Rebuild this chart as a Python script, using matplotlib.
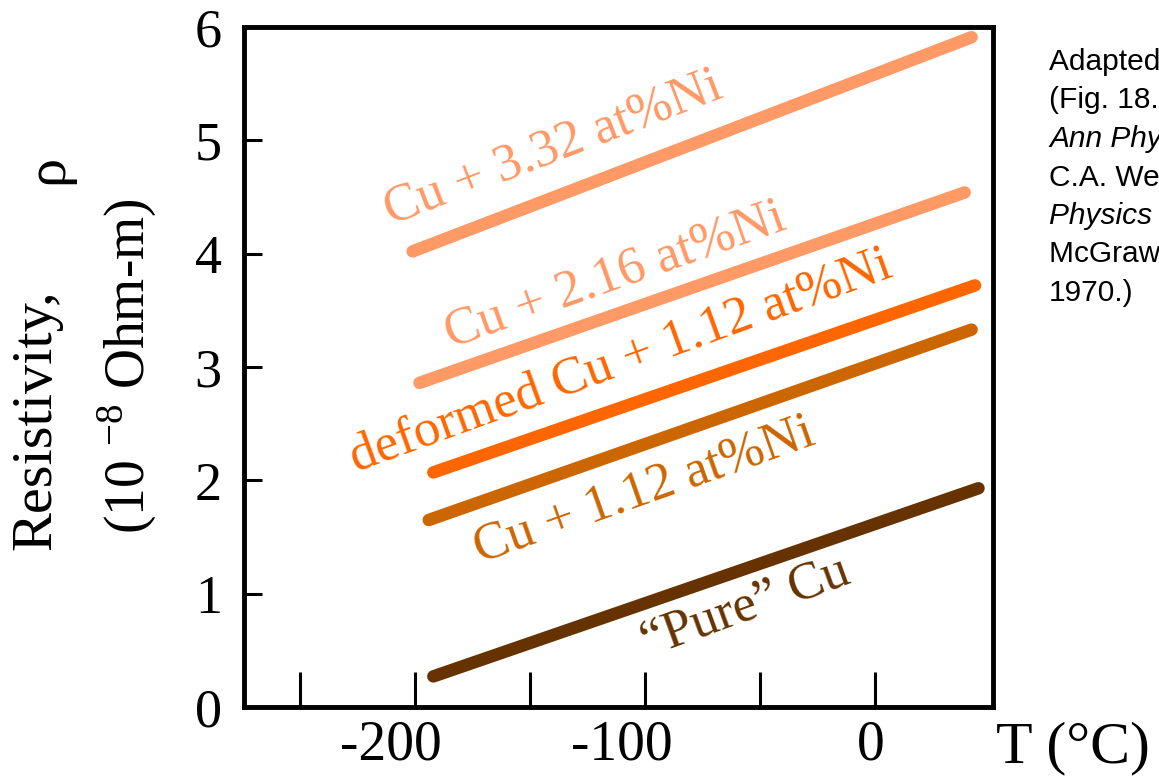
import matplotlib
matplotlib.use("Agg")
import matplotlib.pyplot as plt
from matplotlib import transforms

plt.rcParams["font.family"] = ["Liberation Serif", "DejaVu Serif"]
plt.rcParams["mathtext.fontset"] = "custom"
plt.rcParams["mathtext.rm"] = "Liberation Serif"

# resistivity lines: (T start, T end) in degC, (rho start, rho end) in 1e-8 Ohm-m
labels = ["\u201cPure\u201d Cu", "Cu + 1.12 at%Ni", "deformed Cu + 1.12 at%Ni",
          "Cu + 2.16 at%Ni", "Cu + 3.32 at%Ni"]
t_start = [-192, -194, -192, -198, -201]
t_end = [45, 42, 43.5, 39, 42]
rho_start = [0.27, 1.65, 2.07, 2.86, 4.02]
rho_end = [1.93, 3.33, 3.72, 4.54, 5.91]
colors = ["#663300", "#cc6600", "#ff6600", "#ff9966", "#ff9966"]

# label anchors (data coords) and rotation
label_x = [-56, -100.5, -110.5, -113, -140]
label_y = [0.87, 1.91, 3.05, 3.81, 4.93]
label_rot = [20, 19.5, 20, 19.5, 21]

xticks_major = [-200, -100, 0]
xticks_minor = [-250, -150, -50]
yticks = [0, 1, 2, 3, 4, 5, 6]

fig = plt.figure(figsize=(11.59, 7.76), dpi=100)
ax = fig.add_axes([244 / 1159, 69 / 776, 749 / 1159, 680 / 776])

for ts, te, rs, re, c in zip(t_start, t_end, rho_start, rho_end, colors):
    ax.plot([ts, te], [rs, re], color=c, lw=9, solid_capstyle="round")

for lab, lx, ly, rot, c in zip(labels, label_x, label_y, label_rot, colors):
    ax.text(lx, ly, lab, color=c, fontsize=38, rotation=rot,
            rotation_mode="anchor", ha="center", va="center")

ax.set_xlim(-274.3, 51.3)
ax.set_ylim(0, 6)

for sp in ax.spines.values():
    sp.set_linewidth(3.5)

ax.set_yticks(yticks)
ax.tick_params(axis="y", direction="in", length=13, width=2.2, labelsize=39, pad=16)
ax.set_xticks(xticks_major + xticks_minor)
ax.set_xticklabels([])
ax.tick_params(axis="x", direction="in", length=25, width=2.2)

for xv in xticks_major:
    dx = -3 if xv == 0 else -17
    tr = transforms.offset_copy(ax.transData, fig=fig, x=dx, y=-38, units="points")
    ax.text(xv, 0, str(xv), transform=tr, fontsize=40, ha="center", va="baseline")

fig.text(996 / 1159, 1 - 748 / 776, "T (\u00b0C)", fontsize=43, ha="left", va="center")

# y axis title
fig.text(36 / 1159, 1 - 420 / 776, "Resistivity,", fontsize=42, rotation=90,
         ha="center", va="center")
fig.text(48 / 1159, 1 - 169 / 776, "\u03c1", fontsize=42, rotation=90,
         ha="center", va="center")
fig.text(127 / 1159, 1 - 366 / 776, "(10 $^{-8}$ Ohm-m)", fontsize=40, rotation=90,
         ha="center", va="center")

# source note (runs off the right edge as in the original slide)
note = [
    ("Adapted from Fig. 18.8, Callister 7e.", "normal"),
    ("(Fig. 18.8 adapted from J.O. Linde,", "normal"),
    ("Ann Physik 5, p. 219 (1932); and", "italic"),
    ("C.A. Wert and R.M. Thomson,", "normal"),
    ("Physics of Solids, 2nd edition,", "italic"),
    ("McGraw-Hill Book Company, New York,", "normal"),
    ("1970.)", "normal"),
]
for i, (line, style) in enumerate(note):
    fig.text(1049 / 1159, 1 - (62 + i * 38.5) / 776, line, fontsize=21.5,
             family="Liberation Sans", style=style, ha="left", va="center")

fig.savefig("out.png", dpi=100)
